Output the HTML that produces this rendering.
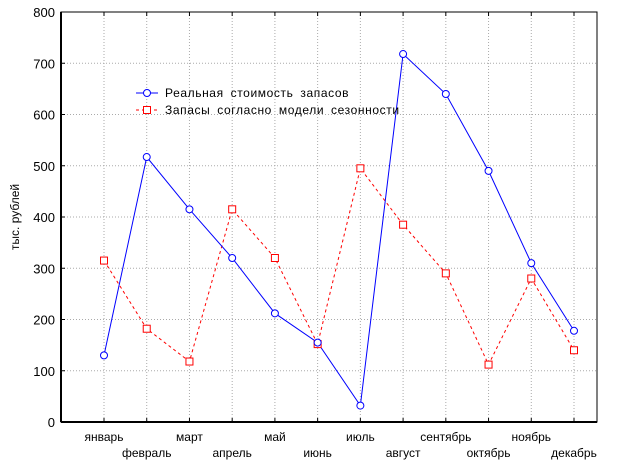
<!DOCTYPE html>
<html><head><meta charset="utf-8"><style>
body{margin:0;background:#fff;width:625px;height:469px;overflow:hidden}
svg{font-family:"Liberation Sans",sans-serif}
</style></head><body>
<svg id="chart" width="625" height="469" viewBox="0 0 625 469">
<g id="grid"></g>
<g id="axes"></g>
<g id="series"></g>
<text transform="translate(19,217) rotate(-90)" text-anchor="middle" font-size="12">тыс. рублей</text>
<g>
 <g>
  <line x1="136" y1="93" x2="158" y2="93" stroke="#00f" stroke-width="1"/>
  <circle cx="147" cy="93" r="3.5" fill="#fff" stroke="#00f"/>
  <text x="165" y="97" font-size="12" letter-spacing="0.6" word-spacing="3">Реальная стоимость запасов</text>
 </g>
 <g>
  <line x1="136" y1="110" x2="158" y2="110" stroke="#f00" stroke-dasharray="3,3"/>
  <rect x="143.5" y="106.5" width="7" height="7" fill="#fff" stroke="#f00"/>
  <text x="165" y="114" font-size="12" letter-spacing="0.6" word-spacing="3">Запасы согласно модели сезонности</text>
 </g>
</g>
</svg>
<script>
const months=["январь","февраль","март","апрель","май","июнь","июль","август","сентябрь","октябрь","ноябрь","декабрь"];
const actual=[130,517,415,320,212,155,32,718,640,490,310,178];
const seasonal=[315,182,118,415,320,152,495,385,290,112,280,140];
const yTicks=[0,100,200,300,400,500,600,700,800];
const L=61,R=597,T=12,B=422;
const x=i=>104+i*(574-104)/11;
const y=v=>B-(v/800)*(B-T);
const NS="http://www.w3.org/2000/svg";
function mk(tag,attrs,parent){const e=document.createElementNS(NS,tag);for(const k in attrs)e.setAttribute(k,attrs[k]);parent.appendChild(e);return e;}
const grid=document.getElementById('grid'),axes=document.getElementById('axes'),series=document.getElementById('series');
yTicks.forEach(v=>{
 if(v>0&&v<800){const g=mk('line',{x1:L,x2:R,y1:y(v),y2:y(v),stroke:'#aaa','stroke-dasharray':'1,2'},grid);
 
 }
 const t=mk('text',{x:L-6,y:y(v)+5,'text-anchor':'end','font-size':'13'},axes);t.textContent=v;
 
 
 mk('line',{x1:L,x2:L+4,y1:y(v),y2:y(v),stroke:'#000'},axes);
});
months.forEach((m,i)=>{
 const g=mk('line',{x1:x(i),x2:x(i),y1:T,y2:B,stroke:'#aaa','stroke-dasharray':'1,2'},grid);
 
 
 mk('line',{x1:x(i),x2:x(i),y1:B,y2:B-4,stroke:'#000'},axes);
 mk('line',{x1:x(i),x2:x(i),y1:T,y2:T+4,stroke:'#000'},axes);
 const t=mk('text',{x:x(i),y:i%2?457:441,'text-anchor':'middle','font-size':'12'},axes);t.textContent=m;
 
 
});
const fr=mk('rect',{x:L,y:T,width:R-L,height:B-T,fill:'none',stroke:'#000','stroke-width':1},axes);


mk('line',{x1:L,x2:L,y1:T,y2:B,stroke:'#000','stroke-width':2},axes);
mk('line',{x1:L,x2:R,y1:B,y2:B,stroke:'#000','stroke-width':2},axes);
const ps=mk('polyline',{points:seasonal.map((v,i)=>x(i)+','+y(v)).join(' '),fill:'none',stroke:'#f00','stroke-dasharray':'3,3'},series);


const pa=mk('polyline',{points:actual.map((v,i)=>x(i)+','+y(v)).join(' '),fill:'none',stroke:'#00f'},series);


seasonal.forEach((v,i)=>{const r=mk('rect',{x:x(i)-3.5,y:y(v)-3.5,width:7,height:7,fill:'#fff',stroke:'#f00'},series);
 
 });
actual.forEach((v,i)=>{const c=mk('circle',{cx:x(i),cy:y(v),r:3.5,fill:'#fff',stroke:'#00f'},series);
 
 });
</script>
</body></html>
